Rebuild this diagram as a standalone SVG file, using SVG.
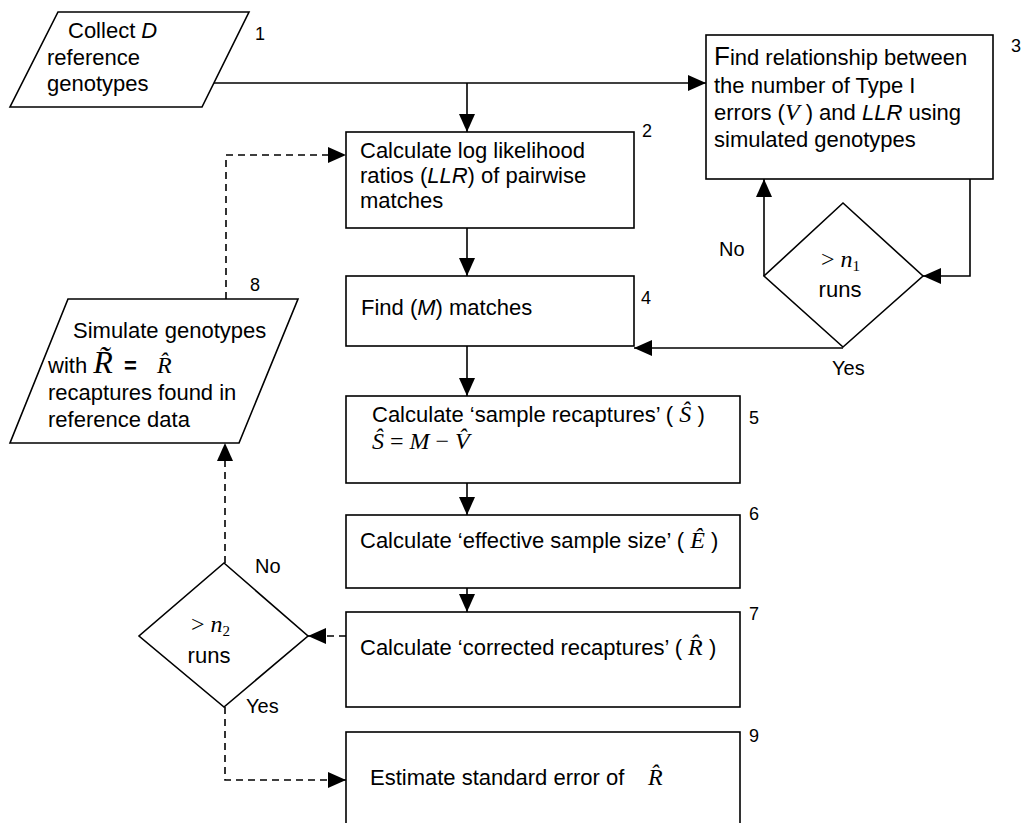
<svg xmlns="http://www.w3.org/2000/svg" width="1022" height="823" viewBox="0 0 1022 823">
<style>
.s{fill:#fff;stroke:#000;stroke-width:1.6}
.t{font-family:"Liberation Sans",Arial,sans-serif;font-size:22px;fill:#000}
.n{font-family:"Liberation Sans",Arial,sans-serif;font-size:18px;fill:#000}
.l{font-family:"Liberation Sans",Arial,sans-serif;font-size:20px;fill:#000}
.m{font-family:"Liberation Serif","Times New Roman",serif;font-style:italic;font-size:24px}
.r{font-family:"Liberation Serif","Times New Roman",serif;font-style:normal;font-size:24px}
.sub{font-family:"Liberation Serif","Times New Roman",serif;font-style:normal;font-size:15px}
.c{fill:none;stroke:#000;stroke-width:1.6}
.d{fill:none;stroke:#000;stroke-width:1.6;stroke-dasharray:7,5}
</style>
<defs>
<marker id="ah" viewBox="0 0 18 16" refX="18" refY="8" markerWidth="18" markerHeight="16" orient="auto" markerUnits="userSpaceOnUse"><path d="M0,0 L18,8 L0,16 z" fill="#000"/></marker>
</defs>
<g id="connectors">
<path class="c" d="M214,83 H706" marker-end="url(#ah)"/>
<path class="c" d="M467,83 V132" marker-end="url(#ah)"/>
<path class="d" d="M226,299 V155 H346" marker-end="url(#ah)"/>
<path class="c" d="M467,228 V276" marker-end="url(#ah)"/>
<path class="c" d="M970,179 V276 H923" marker-end="url(#ah)"/>
<path class="c" d="M764,276 V179" marker-end="url(#ah)"/>
<path class="c" d="M843,348 H634" marker-end="url(#ah)"/>
<path class="c" d="M467,346 V396" marker-end="url(#ah)"/>
<path class="c" d="M467,483 V515" marker-end="url(#ah)"/>
<path class="c" d="M467,588 V612" marker-end="url(#ah)"/>
<path class="d" d="M346,636 H308" marker-end="url(#ah)"/>
<path class="d" d="M225,563 V443" marker-end="url(#ah)"/>
<path class="d" d="M225,707 V780 H346" marker-end="url(#ah)"/>
<text class="l" x="719" y="256">No</text>
<text class="l" x="832" y="375">Yes</text>
<text class="l" x="255" y="573">No</text>
<text class="l" x="246" y="713">Yes</text>
</g>
<g id="n1">
<polygon class="s" points="58,12 249,12 202,107 10,107"/>
<text class="t" x="68" y="38">Collect <tspan font-style="italic">D</tspan></text>
<text class="t" x="47" y="65">reference</text>
<text class="t" x="47" y="91">genotypes</text>
<text class="n" x="255" y="40">1</text>
</g>
<g id="n2">
<rect class="s" x="346" y="132" width="288" height="96"/>
<text class="t" x="360" y="158">Calculate log likelihood</text>
<text class="t" x="360" y="183">ratios (<tspan font-style="italic">LLR</tspan>) of pairwise</text>
<text class="t" x="360" y="208">matches</text>
<text class="n" x="642" y="137">2</text>
</g>
<g id="n3">
<rect class="s" x="706" y="35" width="287" height="144"/>
<text class="t" x="714" y="65"><tspan style="font-size:26px">F</tspan>ind relationship between</text>
<text class="t" x="714" y="93">the number of Type I</text>
<text class="t" x="714" y="120">errors (<tspan class="m">V</tspan> ) and <tspan font-style="italic">LLR</tspan> using</text>
<text class="t" x="714" y="147">simulated genotypes</text>
<text class="n" x="1011" y="52">3</text>
</g>
<g id="d1">
<polygon class="s" points="843,203 923,276 843,347 764,276"/>
<text class="t" x="821" y="267"><tspan class="r">&gt; </tspan><tspan class="m">n</tspan><tspan class="sub" dy="4">1</tspan></text>
<text class="t" x="840" y="297" text-anchor="middle">runs</text>
</g>
<g id="n4">
<rect class="s" x="346" y="276" width="288" height="70"/>
<text class="t" x="361" y="315">Find (<tspan font-style="italic">M</tspan>) matches</text>
<text class="n" x="641" y="304">4</text>
</g>
<g id="n5">
<rect class="s" x="346" y="396" width="394" height="87"/>
<text class="t" x="372" y="422">Calculate ‘sample recaptures’ ( <tspan class="m">Ŝ</tspan>  )</text>
<text class="t" x="372" y="449"><tspan class="m">Ŝ</tspan><tspan class="r"> = </tspan><tspan class="m">M</tspan><tspan class="r">  − </tspan><tspan class="m">V&#x302;</tspan></text>
<text class="n" x="749" y="424">5</text>
</g>
<g id="n6">
<rect class="s" x="346" y="515" width="394" height="73"/>
<text class="t" x="360" y="548">Calculate ‘effective sample size’ ( <tspan class="m">Ê</tspan> )</text>
<text class="n" x="749" y="520">6</text>
</g>
<g id="n7">
<rect class="s" x="346" y="612" width="394" height="95"/>
<text class="t" x="360" y="655">Calculate ‘corrected recaptures’ ( <tspan class="m">R&#x302;</tspan> )</text>
<text class="n" x="749" y="620">7</text>
</g>
<g id="d2">
<polygon class="s" points="224,563 308,636 224,707 139,636"/>
<text class="t" x="191" y="632"><tspan class="r">&gt; </tspan><tspan class="m">n</tspan><tspan class="sub" dy="4">2</tspan></text>
<text class="t" x="209" y="663" text-anchor="middle">runs</text>
</g>
<g id="n8">
<polygon class="s" points="68,299 298,299 239,443 10,443"/>
<text class="t" x="73" y="338">Simulate genotypes</text>
<text class="t" x="48" y="373">with <tspan class="m" style="font-size:32px">R&#x303;</tspan><tspan font-weight="bold" x="124">=</tspan><tspan class="m" x="157">R&#x302;</tspan></text>
<text class="t" x="48" y="400">recaptures found in</text>
<text class="t" x="48" y="427">reference data</text>
<text class="n" x="250" y="291">8</text>
</g>
<g id="n9">
<rect class="s" x="346" y="732" width="394" height="100"/>
<text class="t" x="370" y="785">Estimate standard error of<tspan class="m" x="648">R&#x302;</tspan></text>
<text class="n" x="749" y="742">9</text>
</g>
</svg>
